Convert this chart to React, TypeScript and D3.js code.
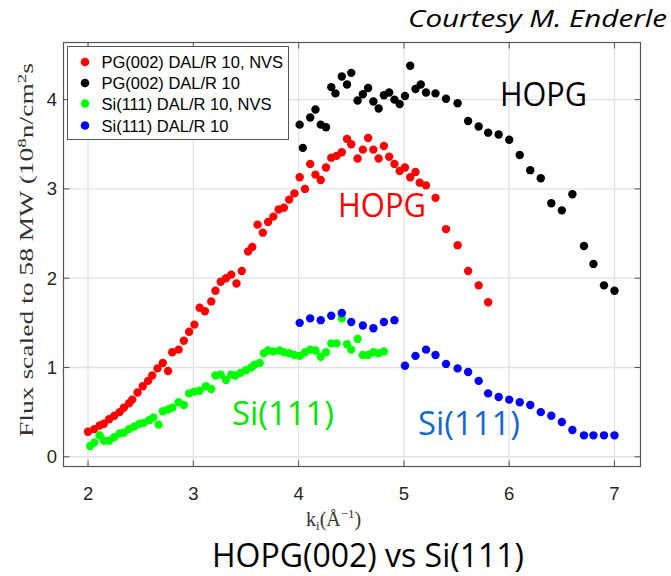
import React from "react";
import * as d3 from "d3";

const redX = [2.00,2.06,2.11,2.15,2.20,2.25,2.30,2.34,2.39,2.42,2.47,2.52,2.57,2.61,2.66,2.71,2.76,2.80,2.86,2.91,2.96,3.01,3.06,3.11,3.17,3.21,3.26,3.31,3.36,3.41,3.46,3.52,3.56,3.61,3.66,3.71,3.76,3.81,3.86,3.91,3.96,4.01,4.06,4.11,4.16,4.21,4.26,4.31,4.36,4.41,4.46,4.50,4.56,4.61,4.66,4.71,4.76,4.81,4.86,4.91,4.96,5.01,5.06,5.11,5.15,5.21,5.30,5.40,5.51,5.61,5.71,5.80];
const redY = [0.28,0.31,0.35,0.37,0.42,0.46,0.50,0.55,0.60,0.64,0.72,0.79,0.85,0.91,0.99,1.05,0.96,1.17,1.20,1.30,1.40,1.48,1.67,1.63,1.74,1.86,1.96,2.00,2.04,1.94,2.08,2.30,2.35,2.60,2.51,2.63,2.69,2.77,2.79,2.88,2.95,3.13,3.00,3.28,3.16,3.10,3.24,3.35,3.37,3.41,3.56,3.50,3.34,3.44,3.57,3.44,3.34,3.48,3.36,3.28,3.20,3.24,3.13,3.19,3.07,3.04,2.90,2.55,2.37,2.08,1.92,1.73];

const blackX = [4.01,4.04,4.11,4.16,4.21,4.26,4.31,4.35,4.41,4.46,4.50,4.56,4.61,4.66,4.71,4.76,4.81,4.86,4.91,4.96,5.01,5.06,5.11,5.16,5.21,5.30,5.40,5.51,5.61,5.71,5.80,5.90,6.00,6.10,6.20,6.30,6.40,6.50,6.60,6.71,6.80,6.90,7.00];
const blackY = [3.72,3.46,3.80,3.89,3.72,3.69,4.14,4.07,4.26,4.17,4.30,3.99,4.06,4.13,3.98,3.90,4.05,4.08,4.00,3.95,4.04,4.38,4.12,4.17,4.08,4.07,4.01,3.96,3.76,3.70,3.63,3.61,3.55,3.38,3.21,3.12,2.84,2.76,2.94,2.36,2.16,1.92,1.86];

const greenX = [2.02,2.06,2.11,2.15,2.20,2.25,2.30,2.34,2.39,2.44,2.49,2.53,2.58,2.62,2.67,2.71,2.76,2.80,2.86,2.91,2.96,3.01,3.06,3.12,3.17,3.21,3.26,3.31,3.36,3.40,3.45,3.50,3.55,3.58,3.63,3.67,3.71,3.76,3.82,3.86,3.91,3.96,4.01,4.06,4.11,4.16,4.21,4.26,4.31,4.36,4.41,4.46,4.50,4.56,4.61,4.66,4.71,4.76,4.81];
const greenY = [0.12,0.16,0.24,0.18,0.18,0.22,0.26,0.27,0.31,0.34,0.37,0.38,0.41,0.44,0.36,0.51,0.53,0.55,0.61,0.58,0.71,0.73,0.74,0.79,0.76,0.91,0.92,0.86,0.92,0.91,0.94,0.97,1.00,1.03,1.05,1.16,1.19,1.18,1.19,1.17,1.16,1.14,1.13,1.17,1.20,1.19,1.12,1.17,1.27,1.27,1.55,1.26,1.20,1.32,1.14,1.14,1.17,1.16,1.18];

const blueX = [4.01,4.11,4.21,4.31,4.41,4.50,4.61,4.71,4.81,4.91,5.01,5.11,5.21,5.30,5.40,5.51,5.61,5.71,5.80,5.90,6.00,6.10,6.20,6.30,6.40,6.50,6.60,6.71,6.80,6.90,7.00];
const blueY = [1.50,1.55,1.53,1.58,1.61,1.51,1.47,1.44,1.51,1.53,1.02,1.13,1.20,1.14,1.04,0.99,0.95,0.85,0.71,0.67,0.64,0.61,0.58,0.50,0.46,0.39,0.30,0.24,0.24,0.24,0.24];

const seriesNames = ["PG(002) DAL/R 10, NVS", "PG(002) DAL/R 10", "Si(111) DAL/R 10, NVS", "Si(111) DAL/R 10"];
const seriesColors = ["#ff0000", "#000000", "#00ff00", "#0000ff"];
const xTicks = [2, 3, 4, 5, 6, 7];
const yTicks = [0, 1, 2, 3, 4];

const W = 671, H = 576;
const L = 63.5, R = 640.5, T = 42.5, B = 466.5;

export default function App() {
  const x = d3.scaleLinear().domain([1.767, 7.247]).range([L, R]);
  const y = d3.scaleLinear().domain([-0.109, 4.64]).range([B, T]);
  const series = [
    { xs: redX, ys: redY },
    { xs: blackX, ys: blackY },
    { xs: greenX, ys: greenY },
    { xs: blueX, ys: blueY },
  ];
  const tickLen = 6;
  const axisColor = "#555";
  const gridColor = "#e3e3e3";
  const sansTick = "'Liberation Sans', Arial, sans-serif";
  const calibri = "'Open Sans', 'Noto Sans', sans-serif";
  const serif = "'Liberation Serif', 'DejaVu Serif', serif";
  const legY = [62, 83, 103.5, 125.5];

  return (
    <svg width={W} height={H} style={{ position: "absolute", left: 0, top: 0, background: "#fff" }}>
      <rect x={0} y={0} width={W} height={H} fill="#fff" />
      {/* grid */}
      {xTicks.map((t) => (
        <line key={"gx" + t} x1={x(t)} x2={x(t)} y1={T} y2={B} stroke={gridColor} strokeWidth={1.3} />
      ))}
      {yTicks.map((t) => (
        <line key={"gy" + t} x1={L} x2={R} y1={y(t)} y2={y(t)} stroke={gridColor} strokeWidth={1.3} />
      ))}
      {/* ticks */}
      {xTicks.map((t) => (
        <g key={"tx" + t}>
          <line x1={x(t)} x2={x(t)} y1={B} y2={B - tickLen} stroke={axisColor} strokeWidth={1} />
          <line x1={x(t)} x2={x(t)} y1={T} y2={T + tickLen} stroke={axisColor} strokeWidth={1} />
          <text x={x(t)} y={493} textAnchor="middle" dominantBaseline="central" fontFamily={sansTick} fontSize={18.5} fill="#262626">{t}</text>
        </g>
      ))}
      {yTicks.map((t) => (
        <g key={"ty" + t}>
          <line x1={L} x2={L + tickLen} y1={y(t)} y2={y(t)} stroke={axisColor} strokeWidth={1} />
          <line x1={R} x2={R - tickLen} y1={y(t)} y2={y(t)} stroke={axisColor} strokeWidth={1} />
          <text x={57} y={y(t)} textAnchor="end" dominantBaseline="central" fontFamily={sansTick} fontSize={18.5} fill="#262626">{t}</text>
        </g>
      ))}
      <rect x={L} y={T} width={R - L} height={B - T} fill="none" stroke={axisColor} strokeWidth={1.2} />

      {/* data */}
      {series.map((s, i) => (
        <g key={"s" + i} fill={seriesColors[i]}>
          {s.xs.map((xv, j) => (
            <circle key={j} cx={x(xv)} cy={y(s.ys[j])} r={4.2} />
          ))}
        </g>
      ))}

      {/* legend */}
      <rect x={67.5} y={46.5} width={221} height={93} fill="#fff" stroke="#555" strokeWidth={1} />
      {seriesNames.map((n, i) => (
        <g key={"l" + i}>
          <circle cx={85} cy={legY[i]} r={4.3} fill={seriesColors[i]} />
          <text x={101.5} y={legY[i]} dominantBaseline="central" fontFamily={sansTick} fontSize={16.5} fill="#000">{n}</text>
        </g>
      ))}

      {/* annotations */}
      <text x={500} y={106} fontFamily={calibri} fontSize={32} textLength={87} lengthAdjust="spacingAndGlyphs" fill="#000">HOPG</text>
      <text x={338} y={217.3} fontFamily={calibri} fontSize={32} textLength={88} lengthAdjust="spacingAndGlyphs" fill="#ff0000">HOPG</text>
      <text x={232} y={425} fontFamily={calibri} fontSize={32} textLength={102} lengthAdjust="spacingAndGlyphs" fill="#00e600">Si(111)</text>
      <text x={418} y={435} fontFamily={calibri} fontSize={32} textLength={102} lengthAdjust="spacingAndGlyphs" fill="#1469cc">Si(111)</text>

      {/* axis labels */}
      <text transform={`translate(33,437) rotate(-90)`} fontFamily={serif} fontSize={19} fill="#333" textLength={374} lengthAdjust="spacingAndGlyphs">
        Flux scaled to 58 MW (10<tspan dy={-7} fontSize={13}>8</tspan><tspan dy={7}>n/cm</tspan><tspan dy={-7} fontSize={13}>2</tspan><tspan dy={7}>s</tspan>
      </text>
      <text x={306} y={526} fontFamily={serif} fontSize={20} fill="#333">
        k<tspan dy={4} fontSize={13}>i</tspan><tspan dy={-4}>(Å</tspan><tspan dy={-8} fontSize={13}>−1</tspan><tspan dy={8}>)</tspan>
      </text>

      {/* title & credit */}
      <text x={212} y={567} fontFamily={calibri} fontSize={32} textLength={312} lengthAdjust="spacingAndGlyphs" fill="#000">HOPG(002) vs Si(111)</text>
      <text x={408} y={27} fontFamily={calibri} fontStyle="italic" fontSize={23} textLength={259} lengthAdjust="spacingAndGlyphs" fill="#000">Courtesy M. Enderle</text>
    </svg>
  );
}
